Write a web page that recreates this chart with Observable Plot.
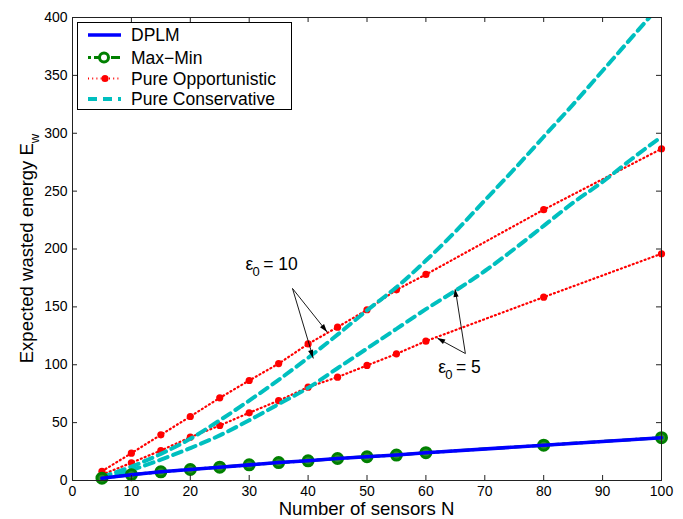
<!DOCTYPE html>
<html><head><meta charset="utf-8">
<script src="https://cdn.jsdelivr.net/npm/d3@7"></script>
<script src="https://cdn.jsdelivr.net/npm/@observablehq/plot@0.6"></script>
<style>
body{margin:0;background:#fff;font-family:"Liberation Sans",Arial,sans-serif;}
#wrap{position:relative;width:683px;height:519px;}
#legend{position:absolute;left:77px;top:22px;width:215px;height:88px;border:1px solid #000;background:#fff;box-sizing:border-box;}
#legend svg{display:block}
</style></head><body><div id="wrap"></div>
<script>
// ---- data ----
const N = [5,10,15,20,25,30,35,40,45,50,55,60,80,100];
const dplm   = [2,5,7.5,9.5,11.5,13.5,15.5,17,19,20.5,22,24,30.5,37];
const maxMin = [2,5,7.5,9.5,11.5,13.5,15.5,17,19,20.5,22,24,30.5,37];
const opp10  = [8,23.6,39.5,55.3,71.4,86.4,101,118,132.5,147.5,164.7,178,234,286.6];
const opp5   = [5,15.3,25.9,37.4,47.5,58.5,69,80.6,89.3,99.4,109.4,120.4,158.4,195.9];
const consN  = [5,10,15,20,25,30,35,40,45,50,55,60,65,70,75,80,85,90,95,100];
const cons10 = [3,12,23,36,52,69,87,106,126,147,167,190,215,242,269,297,325,354,383,412];
const cons5  = [2,9,18,28,39,52,66,80,97,114,131,148,164,181,200,220,240,258,278,297];
const xTicks = [0,10,20,30,40,50,60,70,80,90,100];
const yTicks = [0,50,100,150,200,250,300,350,400];
const legendNames = ["DPLM","Max\u2212Min","Pure Opportunistic","Pure Conservative"];
const xLabel = "Number of sensors N";
const yLabel = "Expected wasted energy E";
const yLabelSub = "w";
// annotations (data units)
const annEps = ["10","5"];
const annX = [33.9, 65.8];
const annY = [181.5, 92.4];
const arrX1 = [37.35, 37.35, 66.7, 66.7];
const arrY1 = [165.9, 165.9, 109.7, 109.7];
const arrX2 = [43.3, 40.9, 65.0, 62.0];
const arrY2 = [127.9, 105.4, 165.0, 122.7];

// ---- tables ----
const mainRows = N.map((n,i)=>({N:n, dplm:dplm[i], maxMin:maxMin[i], opp10:opp10[i], opp5:opp5[i]}));
const consRows = consN.map((n,i)=>({N:n, cons10:cons10[i], cons5:cons5[i]}));
const arrows = arrX1.map((x,i)=>({x1:x, y1:arrY1[i], x2:arrX2[i], y2:arrY2[i]}));

const W=683, H=519, mL=72, mR=22, mT=17, mB=39;
const plotH = H-mT-mB, plotW = W-mL-mR, tl = 5;
const BLUE="#0000ff", GREEN="#008000", RED="#ff0000", CYAN="#00bfbf";
const FONT='"Liberation Sans", Arial, Helvetica, sans-serif';
const DOT = "1,3.2";

const chart = Plot.plot({
  width: W, height: H, marginLeft: mL, marginRight: mR, marginTop: mT, marginBottom: mB,
  style: {fontFamily: FONT, fontSize: "14px", color: "#000", background: "#fff"},
  x: {domain: [0,100]},
  y: {domain: [0,400]},
  marks: [
    // opportunistic (red dotted + markers)
    Plot.line(mainRows, {x:"N", y:"opp10", stroke:RED, strokeWidth:2.2, strokeDasharray:DOT}),
    Plot.line(mainRows, {x:"N", y:"opp5", stroke:RED, strokeWidth:2.2, strokeDasharray:DOT}),
    Plot.dot(mainRows, {x:"N", y:"opp10", r:3.6, fill:RED}),
    Plot.dot(mainRows, {x:"N", y:"opp5", r:3.6, fill:RED}),
    // conservative (cyan dashed)
    Plot.line(consRows, {x:"N", y:"cons10", stroke:CYAN, strokeWidth:4, strokeDasharray:"9,6", curve:"monotone-x", clip:true}),
    Plot.line(consRows, {x:"N", y:"cons5", stroke:CYAN, strokeWidth:4, strokeDasharray:"9,6", curve:"monotone-x", clip:true}),
    // max-min (green dash-dot + circles)
    Plot.line(mainRows, {x:"N", y:"maxMin", stroke:GREEN, strokeWidth:3, strokeDasharray:"8,4,2,4"}),
    Plot.dot(mainRows, {x:"N", y:"maxMin", r:5, stroke:GREEN, strokeWidth:3, fill:"#2e8b2e"}),
    // DPLM (blue solid)
    Plot.line(mainRows, {x:"N", y:"dplm", stroke:BLUE, strokeWidth:3.6}),
    // arrows lines
    Plot.link(arrows, {x1:"x1", y1:"y1", x2:"x2", y2:"y2", stroke:"#000", strokeWidth:0.9}),
    // frame and inward ticks
    Plot.frame({stroke:"#222", strokeWidth:1}),
    Plot.tickX(xTicks, {x:d=>d, insetTop: plotH-tl, stroke:"#222"}),
    Plot.tickX(xTicks, {x:d=>d, insetBottom: plotH-tl, stroke:"#222"}),
    Plot.tickY(yTicks, {y:d=>d, insetRight: plotW-tl, stroke:"#222"}),
    Plot.tickY(yTicks, {y:d=>d, insetLeft: plotW-tl, stroke:"#222"}),
    Plot.axisX(xTicks, {tickSize:0, tickPadding:6, label:null, fontSize:14}),
    Plot.axisY(yTicks, {tickSize:0, tickPadding:5, label:null, fontSize:14})
  ]
});

const wrap = document.getElementById("wrap");
wrap.appendChild(chart);
const svg = d3.select(chart);
const sx = chart.scale("x"), sy = chart.scale("y");

// arrow heads (filled)
arrows.forEach(a=>{
  const x1=sx.apply(a.x1), y1=sy.apply(a.y1), x2=sx.apply(a.x2), y2=sy.apply(a.y2);
  const dx=x2-x1, dy=y2-y1, L=Math.hypot(dx,dy), ux=dx/L, uy=dy/L, nx=-uy, ny=ux;
  const hl=8, hw=2.6;
  const bx=x2-hl*ux, by=y2-hl*uy;
  svg.append("polygon")
    .attr("points", `${x2},${y2} ${bx+hw*nx},${by+hw*ny} ${bx-hw*nx},${by-hw*ny}`)
    .attr("fill","#000");
});

// epsilon annotations
annEps.forEach((v,i)=>{
  const t = svg.append("text")
    .attr("x", sx.apply(annX[i])).attr("y", sy.apply(annY[i]))
    .attr("font-family", FONT).attr("font-size", 17.5).attr("fill","#000");
  t.append("tspan").text("\u03b5");
  t.append("tspan").attr("dy", 6).attr("dx", -1).attr("font-size", 13).text("0");
  t.append("tspan").attr("dy", -6).text("\u2009= " + v);
});

// axis labels
svg.append("text")
  .attr("x", mL + plotW/2).attr("y", H-4).attr("text-anchor","middle")
  .attr("font-family", FONT).attr("font-size", 18.6).attr("fill","#000")
  .text(xLabel);
const yl = svg.append("text")
  .attr("transform", `translate(33,${mT+plotH/2}) rotate(-90)`).attr("text-anchor","middle")
  .attr("font-family", FONT).attr("font-size", 18.5).attr("fill","#000");
yl.append("tspan").text(yLabel);
yl.append("tspan").attr("dy", 6).attr("font-size", 13).text(yLabelSub);

// legend
const leg = document.createElement("div");
leg.id = "legend";
wrap.appendChild(leg);
const ls = d3.select(leg).append("svg").attr("width", 213).attr("height", 86);
const rowsY = [12, 34.5, 55.5, 76];
const styles = [
  {stroke:BLUE, w:3.6, dash:null, marker:null},
  {stroke:GREEN, w:3, dash:"3,3,8,20", marker:"circle"},
  {stroke:RED, w:2.2, dash:DOT, marker:"dot"},
  {stroke:CYAN, w:4, dash:"9,6", marker:null}
];
legendNames.forEach((name,i)=>{
  const y = rowsY[i], st = styles[i];
  const ln = ls.append("line").attr("x1", 10).attr("x2", 43).attr("y1", y).attr("y2", y)
    .attr("stroke", st.stroke).attr("stroke-width", st.w);
  if (st.dash) ln.attr("stroke-dasharray", st.dash);
  if (i===1) ls.append("line").attr("x1", 33).attr("x2", 42).attr("y1", y).attr("y2", y)
    .attr("stroke", GREEN).attr("stroke-width", 3);
  if (st.marker==="circle") ls.append("circle").attr("cx", 26).attr("cy", y).attr("r", 4.5)
    .attr("fill","#fff").attr("stroke", GREEN).attr("stroke-width", 3);
  if (st.marker==="dot") ls.append("circle").attr("cx", 27).attr("cy", y).attr("r", 3.6).attr("fill", RED);
  ls.append("text").attr("x", 53).attr("y", y).attr("dy","0.36em")
    .attr("font-family", FONT).attr("font-size", 17.5).attr("fill","#000").text(name);
});
</script></body></html>
